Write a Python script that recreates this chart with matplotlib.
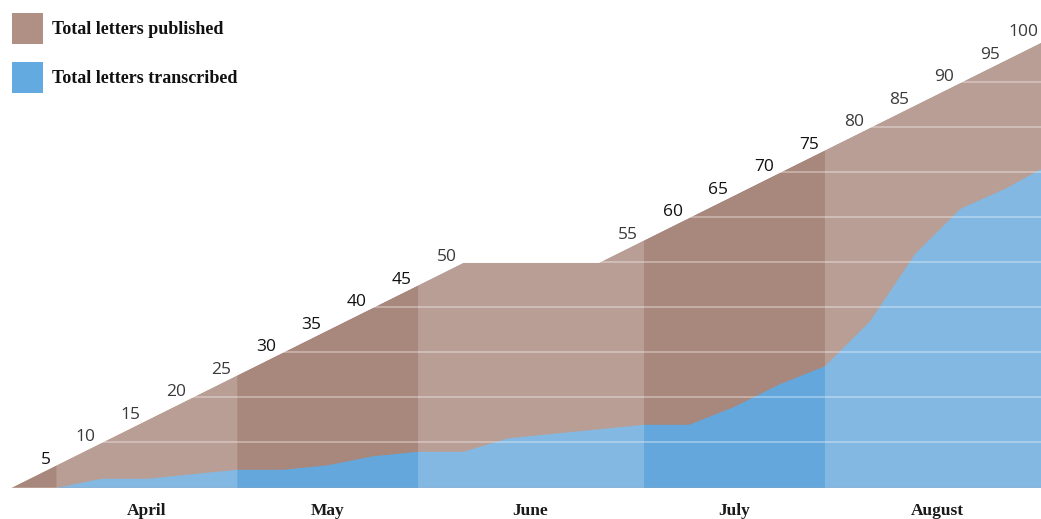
import matplotlib
matplotlib.use("Agg")
import matplotlib.pyplot as plt
from matplotlib.patches import Rectangle
import numpy as np

# ---- data ----
weeks = list(range(24))
published = [0, 5, 10, 15, 20, 25, 30, 35, 40, 45, 50, 50, 50, 50,
             55, 60, 65, 70, 75, 80, 85, 90, 95, 100]
transcribed = [0, 0, 2, 2, 3, 4, 4, 5, 7, 8, 8, 11, 12, 13,
               14, 14, 18, 23, 27, 37, 52, 62, 66.5, 72]
months = ["April", "May", "June", "July", "August"]
month_bounds = [1, 5, 9, 14, 18, 23]   # week index where each month starts / ends
legend_labels = ["Total letters published", "Total letters transcribed"]

# ---- style ----
W, H = 1041, 519
fig = plt.figure(figsize=(W / 100, H / 100), dpi=100)
fig.patch.set_facecolor("white")

def px(x, y):
    return x / W, 1 - y / H

left = 10.8 / W
bottom = 1 - 487.3 / H
width = 23 * 45.2 / W
height = 450 / H
ax = fig.add_axes([left, bottom, width, height])
ax.set_xlim(0, 23)
ax.set_ylim(0, 100)
ax.axis("off")

brown_dark = "#a8877c"
blue_dark = "#64a7dc"

x = np.array(weeks, dtype=float)
pub = np.array(published, dtype=float)
tr = np.array(transcribed, dtype=float)

ax.fill_between(x, 0, pub, color=brown_dark, lw=0, zorder=1)
ax.fill_between(x, 0, tr, color=blue_dark, lw=0, zorder=2)

# lighter (alternate) bands: April, June, August
for i in (0, 2, 4):
    a, b = month_bounds[i], month_bounds[i + 1]
    ax.fill_between(x[a:b + 1], 0, pub[a:b + 1], color="white", alpha=0.2,
                    lw=0, zorder=3)

# gridlines (visible only over the areas)
for g in range(10, 100, 10):
    ax.axhline(g, color="white", alpha=0.35, lw=1.3, zorder=4)
# mask gridlines above published area with white
ax.fill_between(x, pub, 100, color="white", lw=0, zorder=5)

# value labels along the published line
dark_weeks = set([1]) | set(range(month_bounds[1] + 1, month_bounds[2] + 1)) | \
    set(range(month_bounds[3] + 1, month_bounds[4] + 1))
prev = None
last = len(weeks) - 1
for w, v in zip(weeks, published):
    if prev is not None and v > prev:
        col = "#111111" if w in dark_weeks else "#3a3a3a"
        dx = -8.5 if w == last else -4
        ax.annotate(str(v), (w, v), xytext=(dx, -2), textcoords="offset points",
                    ha="right", va="bottom", fontsize=12.5, family="Open Sans",
                    color=col, zorder=6, annotation_clip=False)
    prev = v

# month labels
for i, m in enumerate(months):
    c = (month_bounds[i] + month_bounds[i + 1]) / 2
    ax.text(c, -0.052, m, transform=ax.get_xaxis_transform(), ha="center",
            va="center", fontsize=12.5, family="Liberation Serif", weight="bold",
            color="#1a1a1a")

# legend
legend_colors = ["#b08f85", "#62aae0"]
for i, (lab, col) in enumerate(zip(legend_labels, legend_colors)):
    y0 = 12.7 + i * 49
    fx, fy = px(12.3, y0 + 31)
    fig.patches.append(Rectangle((fx, fy), 31 / W, 31 / H, transform=fig.transFigure,
                                 facecolor=col, edgecolor="none"))
    tx, ty = px(52, y0 + 16.5)
    fig.text(tx, ty, lab, ha="left", va="center", fontsize=13,
             family="Liberation Serif", weight="bold", color="#111111")

fig.savefig("out.png", dpi=100)
